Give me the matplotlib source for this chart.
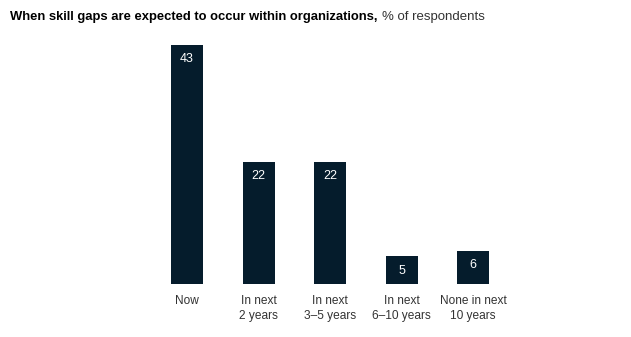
import matplotlib
matplotlib.use('Agg')
import matplotlib.pyplot as plt

categorias = ['Now', 'In next\n2 years', 'In next\n3–5 years', 'In next\n6–10 years', 'None in next\n10 years']
valores = [43, 22, 22, 5, 6]

plt.rcParams['font.family'] = ['Liberation Sans', 'DejaVu Sans']

fig = plt.figure(figsize=(6.31, 3.37), dpi=100)
ax = fig.add_axes([151.25 / 631, 53 / 337, 357.5 / 631, 239 / 337])

cor = '#051c2c'
x = range(len(categorias))
ax.bar(x, valores, width=32 / 71.5, color=cor)

# rótulos dentro das barras
for i, v in zip(x, valores):
    ax.annotate(str(v), (i, v), xytext=(0, -6), textcoords='offset points',
                ha='center', va='top', color='white', fontsize=9)

ax.set_xlim(-0.5, 4.5)
ax.set_ylim(0, 43)
ax.set_xticks(list(x))
ax.set_xticklabels(categorias, fontsize=8.6, color='#333333', linespacing=1.3)
ax.tick_params(axis='x', length=0, pad=8)
ax.set_yticks([])
for s in ax.spines.values():
    s.set_visible(False)

# título: parte em negrito + parte normal
t1 = fig.text(10 / 631, 1 - 17 / 337, 'When skill gaps are expected to occur within organizations,',
              fontsize=9.4, fontweight='bold', color='#000000', va='center')
fig.canvas.draw()
bb = t1.get_window_extent()
fig.text((bb.x1 + 4) / 631, 1 - 17 / 337, '% of respondents', fontsize=9.5,
         color='#333333', va='center')

fig.savefig('out.png', dpi=100)
